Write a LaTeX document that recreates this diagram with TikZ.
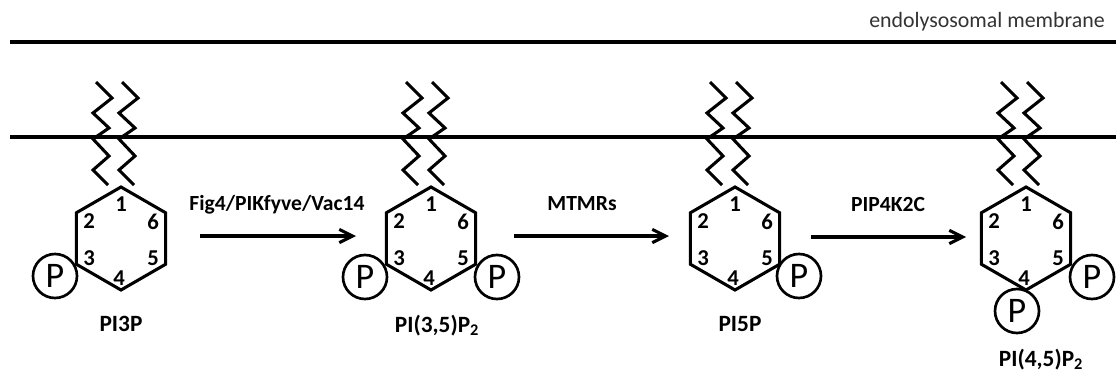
\documentclass[tikz,border=0pt]{standalone}
\usepackage{fontspec}
\setmainfont{Carlito}
\usetikzlibrary{shapes.geometric, arrows.meta, positioning}

\begin{document}
\begin{tikzpicture}[
    x=0.75pt, y=-0.75pt,
    membrane/.style={line width=2.3pt, black},
    ring/.style={regular polygon, regular polygon sides=6, regular polygon rotate=30, draw, line width=2.3pt, minimum size=77.25pt, inner sep=0pt, outer sep=0pt},
    tail/.style={line width=2.3pt, line join=miter},
    phos/.style={circle, draw, fill=white, line width=2pt, minimum size=33pt, inner sep=0pt, font=\fontsize{27}{27}\selectfont},
    atom/.style={font=\fontsize{17}{17}\selectfont\bfseries, inner sep=0pt},
    lipid/.style={font=\fontsize{17.5}{18}\selectfont\bfseries, inner sep=0pt, anchor=base},
    enzyme/.style={font=\fontsize{16.2}{17}\selectfont\bfseries, inner sep=0pt},
    reaction/.style={-{Straight Barb[length=10pt, width=10pt, line width=2.3pt]}, line width=2.6pt}
]
    \useasboundingbox (0,0) rectangle (1116,372);

    % Membrane
    \draw[membrane] (10,42) -- (1116,42);
    \draw[membrane] (10,137) -- (1116,137);
    \node[font=\fontsize{16.4}{17}\selectfont, anchor=east, inner sep=0pt, text=black!80] (memlabel) at (1105,22) {endolysosomal membrane};

    % Rings with tails and numbers
    \foreach \n/\x in {a/121, b/431, c/735, d/1026} {
        \foreach \d in {0,26} {
            \draw[tail, shift={(\x+\d,238.5)}] (-25,-156.5) -- (-9,-140.5) -- (-28,-125.5) -- (-12,-110.5)
                -- (-28,-99.5) -- (-12,-82.5) -- (-28,-68.5) -- (-13,-53.5);
        }
        \node[ring] (ring\n) at (\x,238.5) {};
        \node[atom] (\n1) at (\x,204.5) {1};
        \node[atom] (\n2) at (\x-32,221.5) {2};
        \node[atom] (\n3) at (\x-32,258.5) {3};
        \node[atom] (\n4) at (\x-2,278) {4};
        \node[atom] (\n5) at (\x+32,258.5) {5};
        \node[atom] (\n6) at (\x+32,221.5) {6};
    }

    % Phosphates
    \node[phos] (pa3) at (55,276) {P};
    \node[phos] (pb3) at (365,277) {P};
    \node[phos] (pb5) at (497,277) {P};
    \node[phos] (pc5) at (799,276) {P};
    \node[phos] (pd5) at (1092,277) {P};
    \node[phos] (pd4) at (1017,311) {P};

    % Lipid names
    \node[lipid] (pi3p) at (121,331) {PI3P};
    \node[lipid] (pi35) at (437,332) {PI(3,5)P\textsubscript{2}};
    \node[lipid] (pi5p) at (740,331) {PI5P};
    \node[lipid] (pi45) at (1041,366) {PI(4,5)P\textsubscript{2}};

    % Reactions
    \coordinate (r1s) at (200,236);
    \coordinate (r1e) at (356,236);
    \coordinate (r2s) at (514,236);
    \coordinate (r2e) at (669,236);
    \coordinate (r3s) at (811,237);
    \coordinate (r3e) at (966,237);
    \draw[reaction] (r1s) -- (r1e);
    \draw[reaction] (r2s) -- (r2e);
    \draw[reaction] (r3s) -- (r3e);

    % Enzymes
    \node[enzyme] (fig4) at (277,205) {Fig4/PIKfyve/Vac14};
    \node[enzyme] (mtmr) at (582,204) {MTMRs};
    \node[enzyme] (pip4) at (888,204) {PIP4K2C};
\end{tikzpicture}
\end{document}
